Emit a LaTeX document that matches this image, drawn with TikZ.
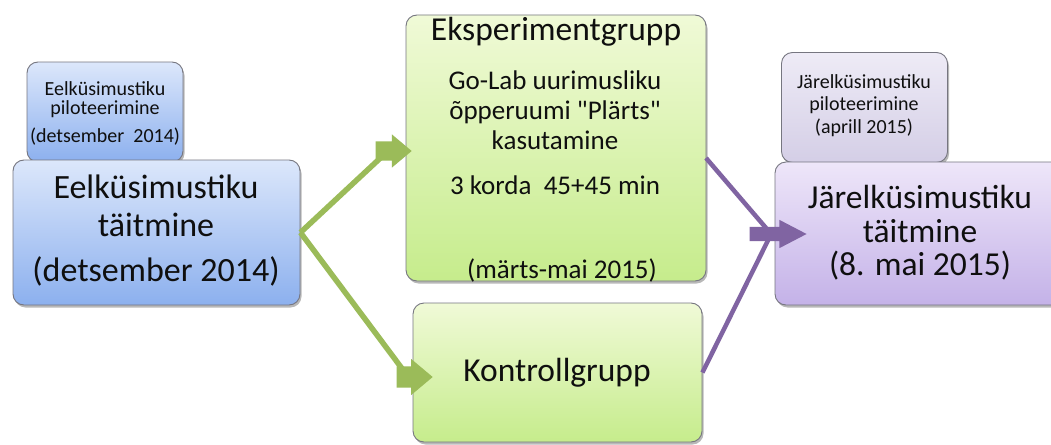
\documentclass[tikz,border=0pt]{standalone}
\usepackage{fontspec}
\setmainfont{Carlito}[Ligatures=TeXOff]
\usetikzlibrary{shapes.arrows,shadows}
\definecolor{bluetop}{RGB}{220,231,251}
\definecolor{bluebot}{RGB}{140,176,238}
\definecolor{greentop}{RGB}{240,250,215}
\definecolor{greenbot}{RGB}{198,236,140}
\definecolor{purptop}{RGB}{238,230,249}
\definecolor{purpbot}{RGB}{196,178,232}
\definecolor{greytop}{RGB}{238,235,246}
\definecolor{greybot}{RGB}{212,206,230}
\definecolor{boxline}{RGB}{118,118,128}
\definecolor{garrowc}{RGB}{155,187,89}
\definecolor{parrowc}{RGB}{128,100,162}
\definecolor{txtc}{RGB}{15,15,15}
\begin{document}
\begin{tikzpicture}[x=1pt,y=-1pt,
  box/.style={draw=boxline, line width=0.9pt, rounded corners=11pt, inner sep=0pt,
    drop shadow={shadow xshift=1.5pt, shadow yshift=-2.5pt, opacity=0.28, fill=black}},
  bluebox/.style={box, top color=bluetop, bottom color=bluebot},
  greenbox/.style={box, top color=greentop, bottom color=greenbot},
  purpbox/.style={box, top color=purptop, bottom color=purpbot},
  greybox/.style={box, top color=greytop, bottom color=greybot},
  txt/.style={align=center, inner sep=0pt, text=txtc},
  arrowhd/.style={single arrow, draw=none, inner xsep=0pt, anchor=tip},
  garrow/.style={arrowhd, fill=garrowc, minimum height=36pt, single arrow tip angle=80},
  parrow/.style={arrowhd, fill=parrowc, inner ysep=7pt, minimum height=57pt,
    single arrow head extend=7pt, single arrow tip angle=55},
  gline/.style={draw=garrowc, line width=5.5pt},
  pline/.style={draw=parrowc, line width=4.5pt}]
\fill[white] (0,0) rectangle (1051,444);
\useasboundingbox (0,0) rectangle (1051,444);
% boxes
\node[bluebox, minimum width=156pt, minimum height=100pt] (bs) at (105,112) {};
\node[bluebox, minimum width=287pt, minimum height=145pt] (bb) at (156.5,232.5) {};
\node[greenbox, minimum width=300pt, minimum height=266pt] (eg) at (556,148) {};
\node[greenbox, minimum width=289pt, minimum height=139pt] (kg) at (557.5,372.5) {};
\node[greybox, minimum width=166pt, minimum height=110pt] (ps) at (864.5,107.5) {};
\node[purpbox, minimum width=288pt, minimum height=143pt] (pb) at (919,233.5) {};
% texts
\node[txt, font=\fontsize{20}{19.5}\selectfont] (bst) at (105,113)
  {Eelküsimustiku\\piloteerimine\\[8pt](detsember\ \ 2014)};
\node[txt, font=\fontsize{34}{38}\selectfont] (bbt) at (156,231)
  {Eelküsimustiku\\täitmine\\[7pt](detsember 2014)};
\node[txt, font=\fontsize{33.5}{40}\selectfont] (egt) at (556,32) {Eksperimentgrupp};
\node[txt, font=\fontsize{27}{30}\selectfont] (egb) at (555,110)
  {Go-Lab uurimusliku\\õpperuumi "Plärts"\\kasutamine};
\node[txt, font=\fontsize{27}{30}\selectfont] (egk) at (555,185) {3 korda\ \ 45+45 min};
\node[txt, font=\fontsize{27}{30}\selectfont] (egd) at (562,270) {(märts-mai 2015)};
\node[txt, font=\fontsize{33.5}{40}\selectfont] (kgt) at (557,373) {Kontrollgrupp};
\node[txt, font=\fontsize{20}{21.5}\selectfont] (pst) at (864,106)
  {Järelküsimustiku\\piloteerimine\\[2pt](aprill 2015)};
\node[txt, font=\fontsize{33.5}{33.5}\selectfont] (pbt) at (920,233)
  {Järelküsimustiku\\täitmine\\(8. mai 2015)};
% arrow heads
\node[garrow, inner ysep=9.5pt, single arrow head extend=7pt] (ga1) at (412,151) {};
\node[garrow, inner ysep=10.5pt, single arrow head extend=7.5pt] (ga2) at (433,377) {};
\node[parrow] (pa) at (807,234) {};
% connectors
\coordinate (p1) at (706,158);
\draw[gline] (bb.east) -- (ga1.center);
\draw[gline] (bb.east) -- (ga2.center);
\draw[pline] (p1) -- (pa.center);
\draw[pline] (kg.east) -- (pa.center);
\end{tikzpicture}
\end{document}
